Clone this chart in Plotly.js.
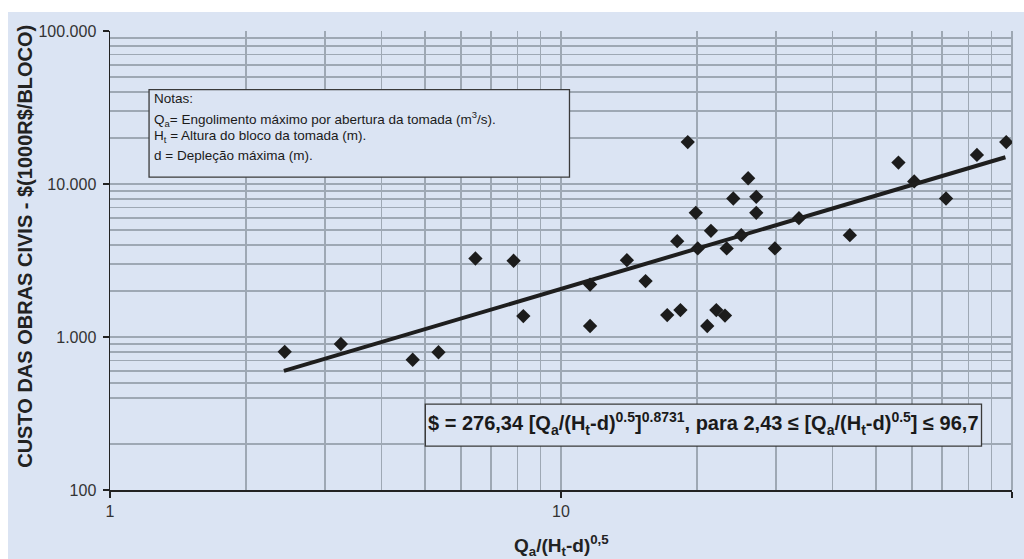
<!DOCTYPE html>
<html>
<head>
<meta charset="utf-8">
<script src="https://cdn.plot.ly/plotly-3.0.1.min.js"></script>
<style>
  html, body { margin: 0; padding: 0; background: #ffffff; width: 1024px; height: 559px; overflow: hidden; }
  #chart { position: absolute; left: 8px; top: 12px; width: 1016px; height: 547px; }
</style>
</head>
<body>
<div id="chart"></div>
<script>
const pointsX = [2.44, 3.25, 4.69, 5.35, 6.46, 7.85, 8.25, 11.6, 11.6, 14.0, 15.4, 17.2, 18.4, 18.1, 19.1, 19.9, 20.1, 21.1, 21.5, 22.1, 23.1, 23.3, 24.1, 25.1, 26.0, 27.1, 27.1, 29.8, 33.7, 43.7, 56.0, 60.7, 71.4, 83.6, 97.1];
const pointsY = [800, 900, 710, 795, 3260, 3150, 1370, 2200, 1180, 3180, 2320, 1390, 1500, 4230, 18800, 6480, 3790, 1180, 4940, 1500, 1380, 3790, 8040, 4630, 10900, 8240, 6480, 3790, 5980, 4630, 13800, 10400, 8040, 15500, 18800];

// Trend line end points (fit valid for 2,43 .. 96,7)
const trendX = [2.43, 96.7];
const trendY = [600, 14960];

// Axis ticks
const xTickVals = [1, 10, 100];
const xTickText = ['1', '10', '100'];
const xMinorVals = [2, 3, 4, 5, 6, 7, 8, 9, 20, 30, 40, 50, 60, 70, 80, 90];
const yTickVals = [100, 1000, 10000, 100000];
const yTickText = ['100', '1.000', '10.000', '100.000'];
const yMinorVals = [200, 400, 500, 600, 700, 800, 900, 2000, 3000, 4000, 5000, 6000, 7000, 8000, 9000, 20000, 30000, 40000, 50000, 60000, 70000, 80000, 90000];

const notes = [
  'Notas:',
  'Q<sub>a</sub>= Engolimento máximo por abertura da tomada (m<sup>3</sup>/s).',
  'H<sub>t</sub> = Altura do bloco da tomada (m).',
  'd = Depleção máxima (m).'
];
const equation = '$ = 276,34 [Q<sub>a</sub>/(H<sub>t</sub>-d)<sup>0.5</sup>]<sup>0.8731</sup>, para 2,43 ≤ [Q<sub>a</sub>/(H<sub>t</sub>-d)<sup>0.5</sup>] ≤ 96,7';
const xTitle = 'Q<sub>a</sub>/(H<sub>t</sub>-d)<sup>0,5</sup>';
const yTitle = 'CUSTO DAS OBRAS CIVIS - $(1000R$/BLOCO)';

const BG = '#dbe4f3';
const GRID = '#9ea8b4';
const FONT = 'Liberation Sans, Arial, Helvetica, sans-serif';

const traces = [
  {
    x: pointsX, y: pointsY, type: 'scatter', mode: 'markers',
    marker: { symbol: 'diamond', size: 11, color: '#1c1c1c' },
    hoverinfo: 'x+y', showlegend: false
  },
  {
    x: trendX, y: trendY, type: 'scatter', mode: 'lines',
    line: { color: '#1e1e1e', width: 4 },
    hoverinfo: 'skip', showlegend: false
  }
];

const notesY = [0.8528, 0.8093, 0.7692, 0.7294];
const annotations = notes.map((t, i) => ({
  text: t, xref: 'paper', yref: 'paper', x: 0.0466, y: notesY[i],
  xanchor: 'left', yanchor: 'middle', showarrow: false, align: 'left',
  font: { family: FONT, size: 13.5, color: '#1a1a1a' }
}));
annotations.push({
  text: equation, xref: 'paper', yref: 'paper', x: 0.6579, y: 0.1459,
  xanchor: 'center', yanchor: 'middle', showarrow: false,
  font: { family: FONT, size: 20, color: '#1a1a1a', weight: 'bold' }
});
annotations.push({
  text: '<b>' + xTitle + '</b>', xref: 'paper', yref: 'paper', x: 0.5, y: -0.12,
  xanchor: 'center', yanchor: 'middle', showarrow: false,
  font: { family: FONT, size: 19, color: '#222' }
});
annotations.push({
  text: '<b>' + yTitle + '</b>', xref: 'paper', yref: 'paper', x: 0, y: 0.531,
  xshift: -84.5, xanchor: 'center', yanchor: 'middle', textangle: -90, showarrow: false,
  font: { family: FONT, size: 20, color: '#222' }
});

const layout = {
  width: 1016, height: 547,
  margin: { l: 102, r: 12, t: 19, b: 69, pad: 0 },
  paper_bgcolor: BG, plot_bgcolor: BG,
  font: { family: FONT, color: '#333' },
  showlegend: false,
  xaxis: {
    type: 'log', range: [0, 2],
    tickmode: 'array', tickvals: xTickVals, ticktext: xTickText,
    ticks: 'outside', ticklen: 6, tickwidth: 1.5, tickcolor: '#222',
    tickfont: { family: FONT, size: 16, color: '#333' },
    showline: true, linecolor: '#222', linewidth: 1.5,
    showgrid: true, gridcolor: GRID, gridwidth: 1.5,
    minor: { tickmode: 'array', tickvals: xMinorVals, showgrid: true, gridcolor: GRID, gridwidth: 1.5, ticks: '' },
    zeroline: false, fixedrange: true
  },
  yaxis: {
    type: 'log', range: [2, 5],
    tickmode: 'array', tickvals: yTickVals, ticktext: yTickText,
    ticks: 'outside', ticklen: 6, tickwidth: 1.5, tickcolor: '#222',
    tickfont: { family: FONT, size: 16, color: '#333' },
    ticklabelstandoff: 3,
    showline: true, linecolor: '#222', linewidth: 1.5,
    showgrid: true, gridcolor: GRID, gridwidth: 1.5,
    minor: { tickmode: 'array', tickvals: yMinorVals, showgrid: true, gridcolor: GRID, gridwidth: 1.5, ticks: '' },
    zeroline: false, fixedrange: true
  },
  shapes: [
    { type: 'line', xref: 'paper', yref: 'paper', x0: 1, x1: 1, y0: 0, y1: 1, line: { color: GRID, width: 2 }, layer: 'between' },
    { type: 'rect', xref: 'paper', yref: 'paper', x0: 0.0433, x1: 0.5094, y0: 0.6815, y1: 0.8724,
      fillcolor: BG, line: { color: '#3a3a3a', width: 1.3 }, layer: 'above' },
    { type: 'rect', xref: 'paper', yref: 'paper', x0: 0.3496, x1: 0.9662, y0: 0.0958, y1: 0.1872,
      fillcolor: BG, line: { color: '#3a3a3a', width: 1.3 }, layer: 'above' }
  ],
  annotations: annotations
};

Plotly.newPlot('chart', traces, layout, { displayModeBar: false, staticPlot: true });
</script>
</body>
</html>
